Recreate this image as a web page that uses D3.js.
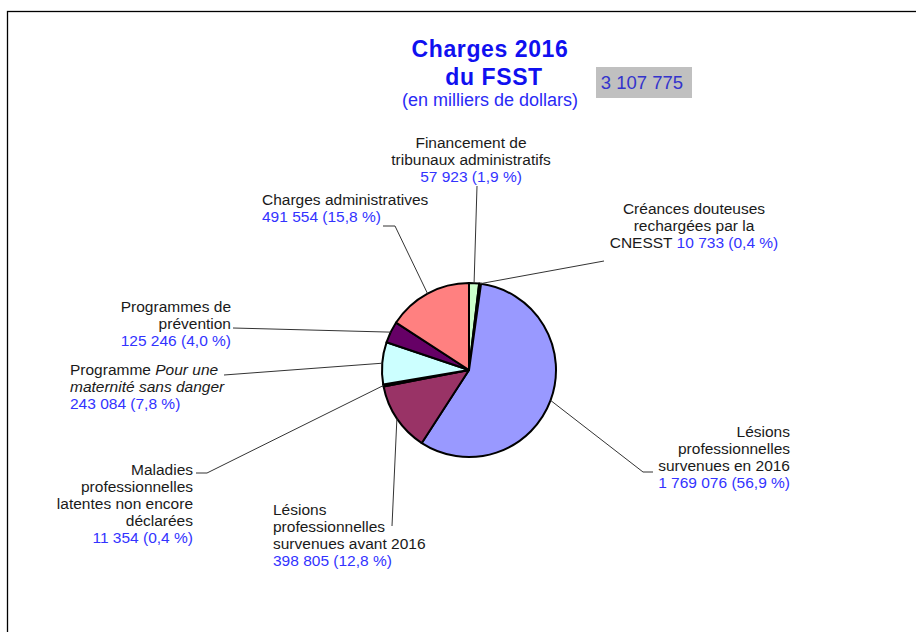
<!DOCTYPE html>
<html>
<head>
<meta charset="utf-8">
<script src="https://cdn.jsdelivr.net/npm/d3@7"></script>
<style>
  html, body { margin: 0; padding: 0; background: #fff; }
  svg { display: block; font-family: Arial, "Liberation Sans", sans-serif; }
</style>
</head>
<body>
<svg id="chart" width="916" height="632"></svg>
<script>
// ---- Data ----
const categories = [
  "Financement de tribunaux administratifs",
  "Créances douteuses rechargées par la CNESST",
  "Lésions professionnelles survenues en 2016",
  "Lésions professionnelles survenues avant 2016",
  "Maladies professionnelles latentes non encore déclarées",
  "Programme Pour une maternité sans danger",
  "Programmes de prévention",
  "Charges administratives"
];
const values = [57923, 10733, 1769076, 398805, 11354, 243084, 125246, 491554];
const percentLabels = ["1,9", "0,4", "56,9", "12,8", "0,4", "7,8", "4,0", "15,8"];
const colors = ["#CCFFCC", "#222222", "#9999FF", "#993366", "#222222", "#CCFFFF", "#660066", "#FF8080"];
const titleLines = ["Charges 2016", "du FSST"];
const subtitle = "(en milliers de dollars)";

// ---- Layout (label text lines & anchors) ----
// each line: array of [text, style] segments; "V" = value line
const labelLayout = [
  { x: 471, y: 148, anchor: "middle", lines: [[["Financement de"]], [["tribunaux administratifs"]], "V"], leader: [[477, 186]] },
  { x: 694, y: 214, anchor: "middle", lines: [[["Créances douteuses"]], [["rechargées par la"]], [["CNESST "], "V"]], leader: [[604, 261]] },
  { x: 790, y: 437, anchor: "end", lines: [[["Lésions"]], [["professionnelles"]], [["survenues en 2016"]], "V"], leader: [[653, 472], [643, 472]] },
  { x: 273, y: 515, anchor: "start", lines: [[["Lésions"]], [["professionnelles"]], [["survenues avant 2016"]], "V"], leader: [[392, 526]] },
  { x: 193, y: 475, anchor: "end", lines: [[["Maladies"]], [["professionnelles"]], [["latentes non encore"]], [["déclarées"]], "V"], leader: [[196, 473], [207, 473]] },
  { x: 70, y: 375, anchor: "start", lines: [[["Programme "], ["Pour une", "italic"]], [["maternité sans danger", "italic"]], "V"], leader: [[224, 375]] },
  { x: 231, y: 312, anchor: "end", lines: [[["Programmes de"]], [["prévention"]], "V"], leader: [[233, 328]] },
  { x: 262, y: 205, anchor: "start", lines: [[["Charges administratives"]], "V"], leader: [[383, 226], [395, 226]] }
];

const W = 916, H = 632;
const cx = 469, cy = 370, R = 87;
const lineH = 17;
const labelColor = "#1a1a1a", valueColor = "#3333FF", titleColor = "#1010F0";

const locale = d3.formatLocale({ decimal: ",", thousands: " ", grouping: [3], currency: ["", ""] });
const fmt = locale.format(",d");
const total = d3.sum(values);

const svg = d3.select("#chart");

// Frame
svg.append("rect").attr("x", 7.5).attr("y", 11.5).attr("width", 1000).attr("height", 800)
  .attr("fill", "none").attr("stroke", "#000").attr("stroke-width", 1.3);

// Title
const title = svg.append("g");
title.selectAll("text.t").data(titleLines).join("text")
  .attr("class", "t")
  .attr("x", (d, i) => i === 0 ? 490 : 494)
  .attr("y", (d, i) => 57 + i * 28)
  .attr("text-anchor", "middle")
  .attr("font-size", 23).attr("font-weight", "bold")
  .attr("letter-spacing", 0.6)
  .attr("fill", titleColor)
  .text(d => d);
title.append("text").attr("x", 490).attr("y", 106).attr("text-anchor", "middle")
  .attr("font-size", 18).attr("fill", "#2A2AF5").text(subtitle);

// Total box
svg.append("rect").attr("x", 596).attr("y", 67).attr("width", 96).attr("height", 31).attr("fill", "#C0C0C0");
svg.append("text").attr("x", 642).attr("y", 89).attr("text-anchor", "middle")
  .attr("font-size", 18.5).attr("fill", "#3333CC").text(fmt(total));

// Pie
const pie = d3.pie().sort(null).value(d => d)(values);
const arc = d3.arc().innerRadius(0).outerRadius(R);
const g = svg.append("g").attr("transform", `translate(${cx},${cy})`);
g.selectAll("path").data(pie).join("path")
  .attr("d", arc)
  .attr("fill", (d, i) => colors[i])
  .attr("stroke", "#000").attr("stroke-width", 2).attr("stroke-linejoin", "round");

// Leader lines
const edge = d3.arc().innerRadius(R).outerRadius(R);
pie.forEach((d, i) => {
  const c = edge.centroid(d);
  const pts = labelLayout[i].leader.concat([[cx + c[0], cy + c[1]]]);
  svg.append("path")
    .attr("d", d3.line()(pts))
    .attr("fill", "none").attr("stroke", "#333").attr("stroke-width", 1);
});

// Labels
labelLayout.forEach((L, i) => {
  const t = svg.append("text")
    .attr("x", L.x).attr("y", L.y)
    .attr("text-anchor", L.anchor)
    .attr("font-size", 15.5)
    .attr("fill", labelColor);
  const valueText = `${fmt(values[i])} (${percentLabels[i]}\u00a0%)`;
  L.lines.forEach((line, li) => {
    const segs = line === "V" ? ["V"] : line;
    segs.forEach((seg, si) => {
      const ts = t.append("tspan");
      if (si === 0) ts.attr("x", L.x).attr("y", L.y + li * lineH);
      if (seg === "V") {
        ts.attr("fill", valueColor).text(valueText);
      } else {
        ts.text(seg[0]);
        if (seg[1] === "italic") ts.attr("font-style", "italic");
      }
    });
  });
});
</script>
</body>
</html>
